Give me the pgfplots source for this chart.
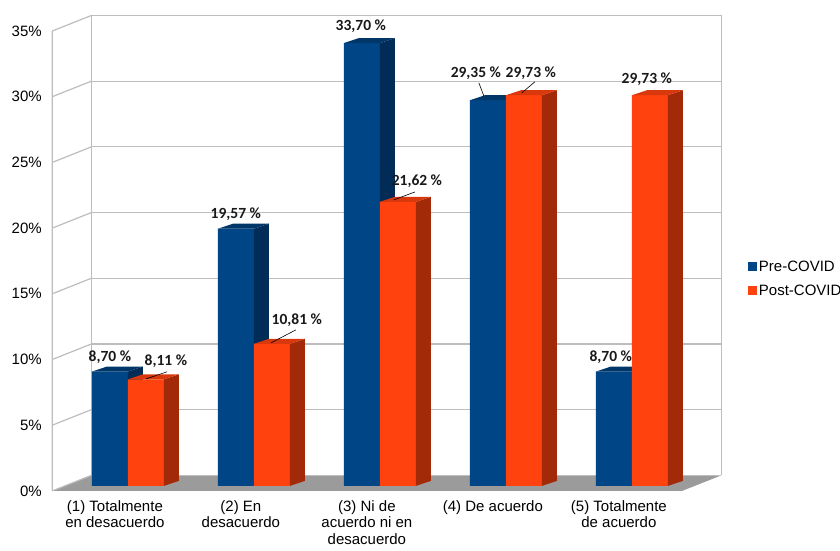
\documentclass[border=0pt]{standalone}
\usepackage{pgfplots}
\pgfplotsset{compat=1.18}
\usepackage{fontspec}
\setmainfont{Liberation Sans}
\newfontfamily\labfont{Carlito}
\definecolor{bfront}{HTML}{004586}
\definecolor{bside}{HTML}{002C57}
\definecolor{btop}{HTML}{003668}
\definecolor{ofront}{HTML}{FF420E}
\definecolor{oside}{HTML}{A32A09}
\definecolor{otop}{HTML}{D9380C}
\definecolor{gridc}{HTML}{BDBDBD}
\definecolor{floorc}{HTML}{9B9B9B}
\begin{document}
\begin{tikzpicture}[x=1pt,y=1pt]
\path[use as bounding box] (0,0) rectangle (840,550);
\begin{axis}[
  at={(41.5,45)}, anchor=south west,
  scale only axis, width=669pt, height=476.7pt,
  xmin=0.4, xmax=5.71, ymin=-0.38, ymax=35.9,
  axis line style={draw=none}, major tick length=0pt,
  clip=false, unbounded coords=jump,
  ytick={-0.38,4.62,9.62,14.62,19.62,24.62,29.62,34.62},
  yticklabels={0\%,5\%,10\%,15\%,20\%,25\%,30\%,35\%},
  yticklabel style={font=\fontsize{15}{17}\selectfont, anchor=east, xshift=-7pt},
  xtick={0.897,1.897,2.897,3.897,4.897},
  xticklabels={{(1) Totalmente\\en desacuerdo},{(2) En\\desacuerdo},{(3) Ni de\\acuerdo ni en\\desacuerdo},{(4) De acuerdo},{(5) Totalmente\\de acuerdo}},
  xticklabel style={font=\fontsize{15}{16.5}\selectfont, align=center, anchor=north, yshift=-8.5pt, inner sep=1pt},
  legend style={at={(axis cs:5.92,15.75)}, anchor=west, draw=none, fill=none,
    font=\fontsize{15}{17}\selectfont, row sep=8pt, inner sep=0pt,
    legend cell align=left, nodes={inner sep=2pt}},
]
% floor
\addplot[forget plot, fill=floorc, draw=none] coordinates {(0.4,-0.38) (5.4,-0.38) (5.71,0.8) (0.71,0.8)} -- cycle;
% back wall grid
\addplot[forget plot, draw=gridc, line width=1.2pt, mark=none] coordinates {
(0.71,0.8) (5.71,0.8) (5.71,nan)
(0.71,5.8) (5.71,5.8) (5.71,nan)
(0.71,10.8) (5.71,10.8) (5.71,nan)
(0.71,15.8) (5.71,15.8) (5.71,nan)
(0.71,20.8) (5.71,20.8) (5.71,nan)
(0.71,25.8) (5.71,25.8) (5.71,nan)
(0.71,30.8) (5.71,30.8) (5.71,nan)
(0.71,35.8) (5.71,35.8) (5.71,nan)
(0.71,0.8) (0.71,35.8) (0.71,nan)
(5.71,0.8) (5.71,35.8)};
% left wall
\addplot[forget plot, draw=gridc, line width=1.2pt, mark=none] coordinates {
(0.4,-0.38) (0.71,0.8) (0.71,nan)
(0.4,4.62) (0.71,5.8) (0.71,nan)
(0.4,9.62) (0.71,10.8) (0.71,nan)
(0.4,14.62) (0.71,15.8) (0.71,nan)
(0.4,19.62) (0.71,20.8) (0.71,nan)
(0.4,24.62) (0.71,25.8) (0.71,nan)
(0.4,29.62) (0.71,30.8) (0.71,nan)
(0.4,34.62) (0.71,35.8) (0.71,nan)
(0.4,-0.38) (0.4,34.62)};
% Pre-COVID
\addplot[ybar, bar width=0.286, bar shift=-0.143, fill=bfront, draw=none,
  legend image code/.code={\fill[bfront] (0pt,-4.5pt) rectangle (9pt,4.5pt);}]
  coordinates {(1,8.70) (2,19.57) (3,33.70) (4,29.35) (5,8.70)};
\addlegendentry{Pre-COVID}
\addplot[forget plot, fill=bside, draw=none] coordinates {(1,0) (1.119,0.38) (1.119,9.08) (1,8.70)} -- cycle;
\addplot[forget plot, fill=bside, draw=none] coordinates {(2,0) (2.119,0.38) (2.119,19.95) (2,19.57)} -- cycle;
\addplot[forget plot, fill=bside, draw=none] coordinates {(3,0) (3.119,0.38) (3.119,34.08) (3,33.70)} -- cycle;
\addplot[forget plot, fill=bside, draw=none] coordinates {(4,0) (4.119,0.38) (4.119,29.73) (4,29.35)} -- cycle;
\addplot[forget plot, fill=bside, draw=none] coordinates {(5,0) (5.119,0.38) (5.119,9.08) (5,8.70)} -- cycle;
\addplot[forget plot, fill=btop, draw=none] coordinates {(0.714,8.70) (0.833,9.08) (1.119,9.08) (1,8.70)} -- cycle;
\addplot[forget plot, fill=btop, draw=none] coordinates {(1.714,19.57) (1.833,19.95) (2.119,19.95) (2,19.57)} -- cycle;
\addplot[forget plot, fill=btop, draw=none] coordinates {(2.714,33.70) (2.833,34.08) (3.119,34.08) (3,33.70)} -- cycle;
\addplot[forget plot, fill=btop, draw=none] coordinates {(3.714,29.35) (3.833,29.73) (4.119,29.73) (4,29.35)} -- cycle;
\addplot[forget plot, fill=btop, draw=none] coordinates {(4.714,8.70) (4.833,9.08) (5.119,9.08) (5,8.70)} -- cycle;
% Post-COVID
\addplot[ybar, bar width=0.286, bar shift=0.143, fill=ofront, draw=none,
  legend image code/.code={\fill[ofront] (0pt,-4.5pt) rectangle (9pt,4.5pt);}]
  coordinates {(1,8.11) (2,10.81) (3,21.62) (4,29.73) (5,29.73)};
\addlegendentry{Post-COVID}
\addplot[forget plot, fill=oside, draw=none] coordinates {(1.286,0) (1.405,0.38) (1.405,8.49) (1.286,8.11)} -- cycle;
\addplot[forget plot, fill=oside, draw=none] coordinates {(2.286,0) (2.405,0.38) (2.405,11.19) (2.286,10.81)} -- cycle;
\addplot[forget plot, fill=oside, draw=none] coordinates {(3.286,0) (3.405,0.38) (3.405,22.00) (3.286,21.62)} -- cycle;
\addplot[forget plot, fill=oside, draw=none] coordinates {(4.286,0) (4.405,0.38) (4.405,30.11) (4.286,29.73)} -- cycle;
\addplot[forget plot, fill=oside, draw=none] coordinates {(5.286,0) (5.405,0.38) (5.405,30.11) (5.286,29.73)} -- cycle;
\addplot[forget plot, fill=otop, draw=none] coordinates {(1,8.11) (1.119,8.49) (1.405,8.49) (1.286,8.11)} -- cycle;
\addplot[forget plot, fill=otop, draw=none] coordinates {(2,10.81) (2.119,11.19) (2.405,11.19) (2.286,10.81)} -- cycle;
\addplot[forget plot, fill=otop, draw=none] coordinates {(3,21.62) (3.119,22.00) (3.405,22.00) (3.286,21.62)} -- cycle;
\addplot[forget plot, fill=otop, draw=none] coordinates {(4,29.73) (4.119,30.11) (4.405,30.11) (4.286,29.73)} -- cycle;
\addplot[forget plot, fill=otop, draw=none] coordinates {(5,29.73) (5.119,30.11) (5.405,30.11) (5.286,29.73)} -- cycle;
% leader lines
\addplot[forget plot, draw=black, line width=0.6pt, mark=none] coordinates {
(1.143,8.14) (1.31,8.68) (1.31,nan)
(2.135,10.88) (2.333,11.87) (2.333,nan)
(3.111,21.77) (3.278,22.37) (3.278,nan)
(3.825,29.68) (3.786,30.67) (3.786,nan)
(4.127,29.91) (4.230,30.75)};
% data labels
\tikzset{dl/.style={font=\labfont\bfseries\fontsize{15.5}{17}\selectfont, text=black!90, inner sep=0pt}}
\node[dl] at (axis cs:0.857,9.82) {8,70 \%};
\node[dl] at (axis cs:1.302,9.51) {8,11 \%};
\node[dl] at (axis cs:1.857,20.70) {19,57 \%};
\node[dl] at (axis cs:2.341,12.63) {10,81 \%};
\node[dl] at (axis cs:2.849,35.01) {33,70 \%};
\node[dl] at (axis cs:3.294,23.22) {21,62 \%};
\node[dl] at (axis cs:3.762,31.43) {29,35 \%};
\node[dl] at (axis cs:4.198,31.43) {29,73 \%};
\node[dl] at (axis cs:4.833,9.82) {8,70 \%};
\node[dl] at (axis cs:5.119,30.97) {29,73 \%};
\end{axis}
\end{tikzpicture}
\end{document}
